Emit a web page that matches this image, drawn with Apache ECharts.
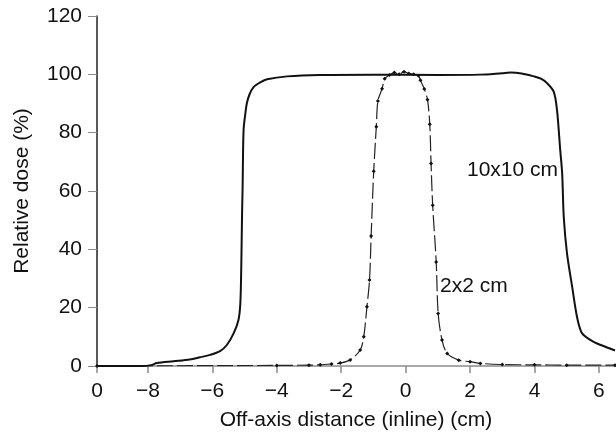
<!DOCTYPE html>
<html>
<head>
<meta charset="utf-8">
<script src="https://cdn.jsdelivr.net/npm/echarts@6/dist/echarts.min.js"></script>
<style>
  html, body { margin: 0; padding: 0; background: #fff; }
  #main { width: 616px; height: 436px; }
</style>
</head>
<body>
<div id="main"></div>
<script>
// 10x10 cm field profile
var tenX = [-9.58, -8.2, -7.9, -7.72, -7.2, -6.7, -6.38, -6.07, -5.76, -5.55, -5.34, -5.19, -5.13, -5.1, -5.08,
            -5.06, -5.03, -4.97, -4.93, -4.85, -4.72, -4.5, -4.3, -3.68, -2.65, -1, 1, 2.3, 3.0, 3.25,
            3.6, 3.98, 4.2, 4.39, 4.6, 4.7, 4.8, 4.86, 4.91, 5.01, 5.17, 5.32, 5.48, 5.84, 6.2, 6.5];
var tenY = [0, 0, 0.3, 1, 1.6, 2.2, 3, 3.8, 5.1, 7.2, 11.2, 15.7, 21.6, 35, 50,
            61.4, 80.8, 87, 90, 93, 95.6, 97.3, 98.3, 99.3, 99.8, 99.9, 99.8, 99.9, 100.4, 100.6,
            100.3, 99.3, 98.5, 97, 94, 87.7, 74, 66, 51, 38.6, 27.2, 16.9, 11.2, 8.3, 6.6, 5.3];

// 2x2 cm field profile
var twoX = [-9.58, -4, -3, -2.65, -2.3, -2.03, -1.72, -1.41, -1.3, -1.2, -1.12, -1.07, -0.99, -0.91, -0.86,
            -0.73, -0.65, -0.5, -0.35, -0.2, -0.05, 0.1, 0.25, 0.4, 0.46, 0.58, 0.68, 0.75, 0.79, 0.84,
            0.95, 1.01, 1.13, 1.29, 1.65, 2.0, 2.32, 3, 4, 5, 6.5];
var twoY = [0, 0.2, 0.3, 0.4, 0.7, 1, 2.1, 5.5, 10, 20.3, 29.5, 44.6, 66.8, 82, 90.9,
            95.1, 98.5, 99.8, 100.6, 100, 100.9, 100.3, 100, 99.5, 98, 95, 91.3, 82.9, 69.4, 55.1,
            35.7, 18, 8.9, 4.3, 2, 1.5, 0.9, 0.5, 0.4, 0.3, 0.3];

var xTicks = [-9.58, -8, -6, -4, -2, 0, 2, 4, 6];
var yMin = 0, yMax = 120, yStep = 20;

function pairs(xs, ys) {
    var out = [];
    for (var i = 0; i < xs.length; i++) out.push([xs[i], ys[i]]);
    return out;
}

var font = 'Liberation Sans, Arial, sans-serif';

var myChart = echarts.init(document.getElementById('main'));
myChart.setOption({
    animation: false,
    grid: { left: 97, right: 1, top: 16, bottom: 70, containLabel: false },
    xAxis: {
        type: 'value',
        min: xTicks[0],
        max: 6.5,
        name: 'Off-axis distance (inline) (cm)',
        nameLocation: 'middle',
        nameGap: 44,
        nameTextStyle: { fontFamily: font, fontSize: 21, color: '#111' },
        axisLine: { onZero: false, lineStyle: { color: '#8a8a8a', width: 1.5 } },
        axisTick: { show: true, length: 7, customValues: xTicks, lineStyle: { color: '#8a8a8a', width: 1.5 } },
        axisLabel: {
            customValues: xTicks,
            margin: 15,
            fontFamily: font, fontSize: 21, color: '#111',
            formatter: function (v) {
                if (v < -9) return '0';
                return v < 0 ? '\u2212' + (-v) : String(v);
            }
        },
        splitLine: { show: false }
    },
    yAxis: {
        type: 'value',
        min: yMin, max: yMax, interval: yStep,
        name: 'Relative dose (%)',
        nameLocation: 'middle',
        nameGap: 64,
        nameTextStyle: { fontFamily: font, fontSize: 21, color: '#111' },
        axisLine: { show: true, onZero: false, lineStyle: { color: '#222', width: 1.5 } },
        axisTick: { show: true, length: 9, lineStyle: { color: '#8a8a8a', width: 1 } },
        axisLabel: { margin: 15, fontFamily: font, fontSize: 21, color: '#111' },
        splitLine: { show: false }
    },
    series: [{
        name: '10x10 cm',
        type: 'line',
        data: pairs(tenX, tenY),
        showSymbol: false,
        smooth: 0.3,
        lineStyle: { color: '#111', width: 2 },
        z: 3
    }, {
        name: '2x2 cm',
        type: 'line',
        data: pairs(twoX, twoY),
        symbol: 'diamond',
        symbolSize: 4,
        smooth: 0.3,
        itemStyle: { color: '#111' },
        lineStyle: { color: '#222', width: 1.2, type: [16, 4] },
        z: 2
    }],
    graphic: [{
        type: 'text', left: 467, top: 160,
        style: { text: '10x10 cm', font: '21px ' + font, fill: '#111' }
    }, {
        type: 'text', left: 440, top: 276,
        style: { text: '2x2 cm', font: '21px ' + font, fill: '#111' }
    }]
});
</script>
</body>
</html>
